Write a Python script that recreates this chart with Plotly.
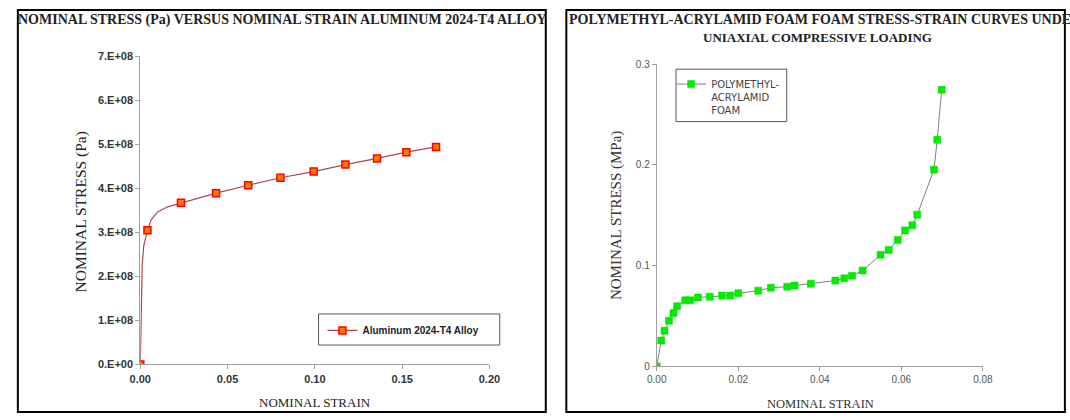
import plotly.graph_objects as go

# ---------------- data ----------------
# Aluminum 2024-T4 (marker points)
al_strain = [0.0, 0.0041, 0.0233, 0.0434, 0.0618, 0.0803, 0.0993, 0.1175, 0.1356, 0.1524, 0.1694]
al_stress = [0.0, 3.05e8, 3.67e8, 3.89e8, 4.07e8, 4.24e8, 4.38e8, 4.54e8, 4.68e8, 4.82e8, 4.94e8]
# Aluminum curve (smooth line)
al_curve_strain = [0.0, 0.0004, 0.0011, 0.0020, 0.0041, 0.0063, 0.0101, 0.0157, 0.0233,
                   0.0434, 0.0618, 0.0803, 0.0993, 0.1175, 0.1356, 0.1524, 0.1694]
al_curve_stress = [0.0, 1.04e8, 2.26e8, 2.70e8, 3.05e8, 3.29e8, 3.47e8, 3.58e8, 3.67e8,
                   3.89e8, 4.07e8, 4.24e8, 4.38e8, 4.54e8, 4.68e8, 4.82e8, 4.94e8]

# Polymethyl-acrylamid foam
pm_strain = [0.0, 0.0011, 0.0019, 0.0030, 0.0041, 0.0050, 0.0070, 0.0082, 0.0101, 0.0130,
             0.0160, 0.0180, 0.0200, 0.0249, 0.0280, 0.0320, 0.0338, 0.0378, 0.0438, 0.0460,
             0.0479, 0.0505, 0.0549, 0.0569, 0.0591, 0.0609, 0.0627, 0.0639, 0.0680, 0.0688, 0.0699]
pm_stress = [0.0, 0.0257, 0.0354, 0.0453, 0.0530, 0.0598, 0.0656, 0.0656, 0.0685, 0.0691,
             0.0704, 0.0704, 0.0726, 0.0752, 0.0781, 0.0791, 0.0803, 0.0820, 0.0852, 0.0875,
             0.0900, 0.0952, 0.1109, 0.1157, 0.1254, 0.1350, 0.1401, 0.1507, 0.1954, 0.2250, 0.2748]

al_yticks = [0, 1e8, 2e8, 3e8, 4e8, 5e8, 6e8, 7e8]
al_ytext = ["0.E+00", "1.E+08", "2.E+08", "3.E+08", "4.E+08", "5.E+08", "6.E+08", "7.E+08"]
al_xticks = [0.0, 0.05, 0.10, 0.15, 0.20]
pm_yticks = [0, 0.1, 0.2, 0.3]
pm_ytext = ["0", "0.1", "0.2", "0.3"]
pm_xticks = [0.0, 0.02, 0.04, 0.06, 0.08]

W, H = 1070, 420
def px(x): return x / W
def py(y): return 1 - y / H

SANS = "Liberation Sans, Arial, sans-serif"
WIDE = "DejaVu Sans, Verdana, sans-serif"
SERIF = "Liberation Serif, Times New Roman, serif"

AL_LINE = "#a84a4a"

fig = go.Figure()

# left chart
fig.add_trace(go.Scatter(x=al_curve_strain, y=al_curve_stress, mode="lines",
                         line=dict(color=AL_LINE, width=1.2), showlegend=False,
                         hoverinfo="skip", xaxis="x", yaxis="y"))
fig.add_trace(go.Scatter(x=al_strain, y=al_stress, mode="markers",
                         marker=dict(symbol="square", size=7, color="#ff7a00",
                                     line=dict(color="#ff0000", width=1.5)),
                         showlegend=False, xaxis="x", yaxis="y"))
fig.add_trace(go.Scatter(x=[None], y=[None], mode="lines+markers", name="Aluminum 2024-T4 Alloy",
                         line=dict(color=AL_LINE, width=1.2),
                         marker=dict(symbol="square", size=7, color="#ff7a00",
                                     line=dict(color="#ff0000", width=1.5)),
                         xaxis="x", yaxis="y", legend="legend"))

# right chart
fig.add_trace(go.Scatter(x=pm_strain, y=pm_stress, mode="lines+markers",
                         name="POLYMETHYL-<br>ACRYLAMID<br>FOAM",
                         line=dict(color="#808080", width=1),
                         marker=dict(symbol="square", size=7, color="#00ee00",
                                     line=dict(color="#00dd00", width=0.5)),
                         xaxis="x2", yaxis="y2", legend="legend2"))

axis_common = dict(showgrid=False, zeroline=False, showline=True, linecolor="#a0a0a0",
                   linewidth=1, ticks="outside", ticklen=4, tickcolor="#a0a0a0",
                   tickwidth=1)

fig.update_layout(
    width=W, height=H, autosize=False,
    margin=dict(l=0, r=0, t=0, b=0),
    paper_bgcolor="white", plot_bgcolor="white",
    xaxis=dict(domain=[px(132), px(488.5)], range=[0, 0.2], tickvals=al_xticks,
               tickformat=".2f", anchor="y",
               tickfont=dict(family=SANS, size=11, color="#333333", weight="bold"),
               **axis_common),
    yaxis=dict(domain=[py(369), py(51.7)], range=[0, 7e8], tickvals=al_yticks,
               ticktext=al_ytext, anchor="x",
               tickfont=dict(family=SANS, size=11, color="#333333", weight="bold"),
               **axis_common),
    xaxis2=dict(domain=[px(659.3), px(992.3)], range=[0, 0.08], tickvals=pm_xticks,
                tickformat=".2f", anchor="y2",
                tickfont=dict(family=SANS, size=10, color="#555555"),
                **axis_common),
    yaxis2=dict(domain=[py(371), py(60)], range=[0, 0.3], tickvals=pm_yticks,
                ticktext=pm_ytext, anchor="x2",
                tickfont=dict(family=SANS, size=10, color="#555555"),
                **axis_common),
    legend=dict(x=px(318), y=py(319), xanchor="left", yanchor="top",
                bgcolor="rgba(0,0,0,0)", borderwidth=0,
                font=dict(family=SANS, size=10, color="#222222", weight="bold")),
    legend2=dict(x=px(674), y=py(67), xanchor="left", yanchor="top",
                 bgcolor="rgba(0,0,0,0)", borderwidth=0, valign="top",
                 font=dict(family=WIDE, size=10, color="#444444")),
    shapes=[
        dict(type="rect", xref="paper", yref="paper", x0=px(7), x1=px(546), y0=py(418), y1=py(4),
             line=dict(color="black", width=2)),
        dict(type="rect", xref="paper", yref="paper", x0=px(567), x1=px(1076), y0=py(418), y1=py(4),
             line=dict(color="black", width=2)),
        dict(type="rect", xref="paper", yref="paper", x0=px(314), x1=px(499), y0=py(349), y1=py(317),
             line=dict(color="#555555", width=1)),
        dict(type="rect", xref="paper", yref="paper", x0=px(679), x1=px(792), y0=py(119), y1=py(65),
             line=dict(color="#555555", width=1)),
    ],
    annotations=[
        dict(text="NOMINAL STRESS (Pa) VERSUS NOMINAL STRAIN ALUMINUM 2024-T4 ALLOY",
             x=px(277), y=py(14), xref="paper", yref="paper", showarrow=False,
             xanchor="center", yanchor="middle",
             font=dict(family=SERIF, size=14, color="#222222", weight="bold")),
        dict(text="NOMINAL STRAIN", x=px(310), y=py(408), xref="paper", yref="paper",
             showarrow=False, xanchor="center", yanchor="middle",
             font=dict(family=SERIF, size=13, color="#222222")),
        dict(text="NOMINAL STRESS (Pa)", x=px(71), y=py(212), xref="paper", yref="paper",
             showarrow=False, textangle=-90, xanchor="center", yanchor="middle",
             font=dict(family=SERIF, size=15.5, color="#222222")),
        dict(text="POLYMETHYL-ACRYLAMID FOAM FOAM STRESS-STRAIN CURVES UNDER",
             x=px(568), y=py(14), xref="paper", yref="paper", showarrow=False,
             xanchor="left", yanchor="middle",
             font=dict(family=SERIF, size=14, color="#222222", weight="bold")),
        dict(text="UNIAXIAL COMPRESSIVE LOADING",
             x=px(823), y=py(32), xref="paper", yref="paper", showarrow=False,
             xanchor="center", yanchor="middle",
             font=dict(family=SERIF, size=13, color="#222222", weight="bold")),
        dict(text="NOMINAL STRAIN", x=px(826), y=py(410), xref="paper", yref="paper",
             showarrow=False, xanchor="center", yanchor="middle",
             font=dict(family=SERIF, size=12.5, color="#333333")),
        dict(text="NOMINAL STRESS (MPa)", x=px(619), y=py(216), xref="paper", yref="paper",
             showarrow=False, textangle=-90, xanchor="center", yanchor="middle",
             font=dict(family=SERIF, size=15, color="#333333")),
    ],
)

fig.write_html("out.html", config={"displayModeBar": False},
               post_script="document.body.style.margin='0px';document.body.style.overflow='hidden';")
